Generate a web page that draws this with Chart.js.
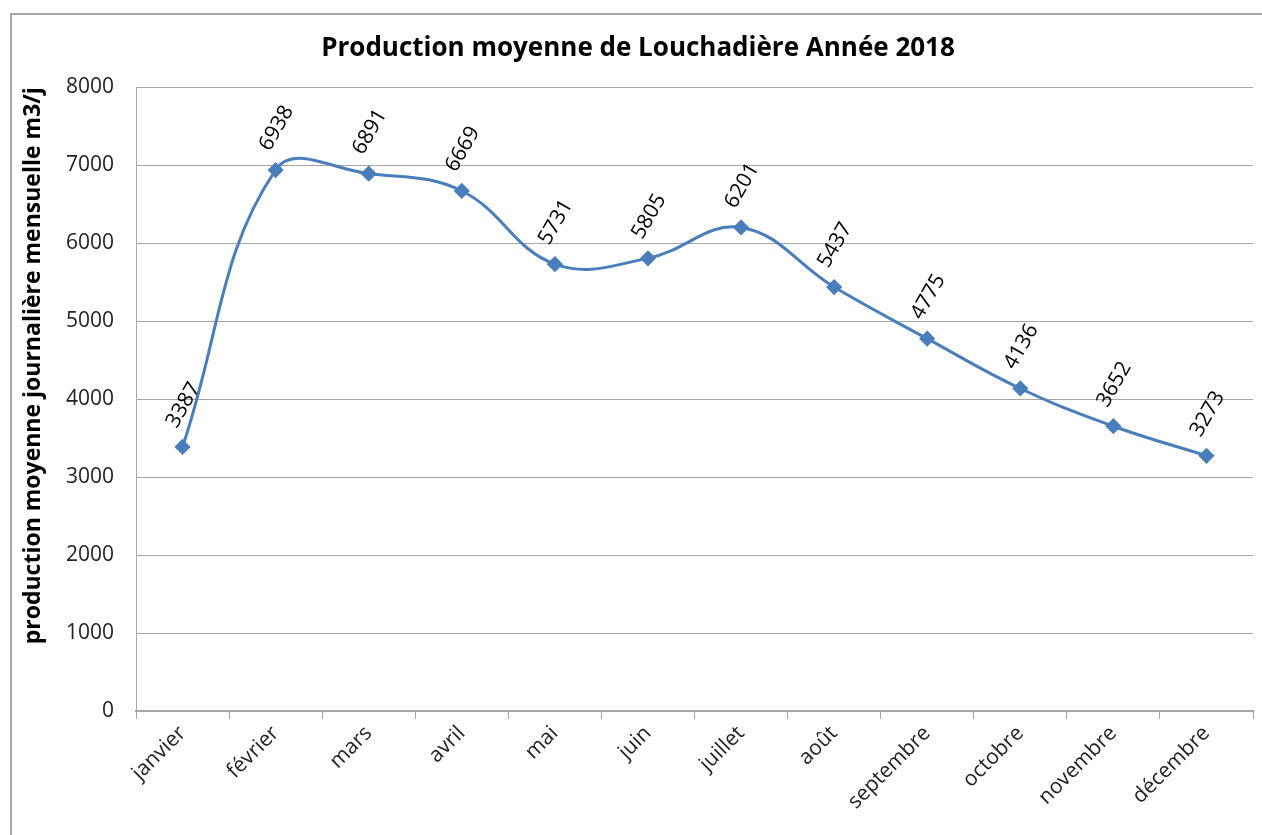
<!DOCTYPE html>
<html lang="fr">
<head>
<meta charset="utf-8">
<title>Production moyenne de Louchadière Année 2018</title>
<script src="https://cdn.jsdelivr.net/npm/chart.js@4/dist/chart.umd.min.js"></script>
<style>
    html, body { margin: 0; padding: 0; background: #fff; overflow: hidden; }
    .chart-container { position: absolute; left: 0; top: 0; width: 1262px; height: 835px; }
</style>
</head>
<body>
<div class="chart-container">
    <canvas id="chartProduction"></canvas>
</div>
<script>
const mois = ['janvier', 'février', 'mars', 'avril', 'mai', 'juin', 'juillet',
    'août', 'septembre', 'octobre', 'novembre', 'décembre'];
const production = [3387, 6938, 6891, 6669, 5731, 5805, 6201, 5437, 4775, 4136, 3652, 3273];
const ticksY = [0, 1000, 2000, 3000, 4000, 5000, 6000, 7000, 8000];

const police = "'Open Sans', 'Liberation Sans', sans-serif";
const bleu = '#4a7ebb';

// cadre gris du graphique (bords gauche et haut)
const cadre = {
    id: 'cadre',
    beforeDraw(chart) {
        const ctx = chart.ctx;
        ctx.save();
        ctx.strokeStyle = '#a6a6a6';
        ctx.lineWidth = 2;
        ctx.beginPath();
        ctx.moveTo(11, chart.height);
        ctx.lineTo(11, 14);
        ctx.lineTo(chart.width, 14);
        ctx.stroke();
        ctx.restore();
    }
};

// étiquettes de valeurs tournées au-dessus de chaque point
const etiquettesValeurs = {
    id: 'etiquettesValeurs',
    afterDatasetsDraw(chart) {
        const ctx = chart.ctx;
        const meta = chart.getDatasetMeta(0);
        ctx.save();
        ctx.font = '21px ' + police;
        ctx.fillStyle = '#000';
        ctx.textAlign = 'left';
        ctx.textBaseline = 'middle';
        meta.data.forEach((pt, i) => {
            ctx.save();
            ctx.translate(pt.x - 11, pt.y - 21);
            ctx.rotate(-Math.PI / 3);
            ctx.fillText(String(production[i]), 0, 0);
            ctx.restore();
        });
        ctx.restore();
    }
};

const canvas = document.getElementById('chartProduction');
canvas.width = 1262;
canvas.height = 835;

new Chart(canvas.getContext('2d'), {
    type: 'line',
    data: {
        labels: mois,
        datasets: [{
            label: 'Production',
            data: production,
            borderColor: bleu,
            backgroundColor: bleu,
            borderWidth: 3,
            tension: 0.4,
            pointStyle: 'rectRot',
            pointRadius: 6,
            pointHoverRadius: 6,
            pointBackgroundColor: bleu,
            pointBorderColor: bleu
        }]
    },
    options: {
        responsive: false,
        animation: false,
        layout: { padding: { left: 20, right: 6, top: 0, bottom: 0 } },
        plugins: {
            legend: { display: false },
            tooltip: { enabled: false },
            title: {
                display: true,
                text: 'Production moyenne de Louchadière Année 2018',
                color: '#000',
                font: { family: police, size: 26, weight: 'bold' },
                padding: { top: 33, bottom: 23 }
            }
        },
        scales: {
            x: {
                offset: true,
                border: { display: true, color: '#a6a6a6', width: 2 },
                grid: {
                    offset: true,
                    drawOnChartArea: false,
                    drawTicks: true,
                    tickLength: 8,
                    color: '#a6a6a6',
                    lineWidth: 1
                },
                ticks: {
                    color: '#222',
                    font: { family: police, size: 21 },
                    minRotation: 45,
                    maxRotation: 45,
                    autoSkip: false,
                    padding: 2
                },
                afterFit(scale) {
                    scale.height = 124;
                    scale.paddingRight = 0;
                }
            },
            y: {
                min: 0,
                max: 8000,
                afterBuildTicks(scale) { scale.ticks = ticksY.map(v => ({ value: v })); },
                border: { display: true, color: '#a6a6a6', width: 1 },
                grid: { color: '#a6a6a6', lineWidth: 1, drawTicks: false },
                ticks: {
                    color: '#222',
                    font: { family: police, size: 21 },
                    padding: 22,
                    callback: v => String(v)
                },
                title: {
                    display: true,
                    text: 'production moyenne journalière mensuelle m3/j',
                    align: 'end',
                    color: '#000',
                    font: { family: police, size: 23, weight: 'bold' },
                    padding: { top: 0, bottom: 0 }
                },
                afterFit(scale) { scale.width = 116; }
            }
        }
    },
    plugins: [cadre, etiquettesValeurs]
});
</script>
</body>
</html>
